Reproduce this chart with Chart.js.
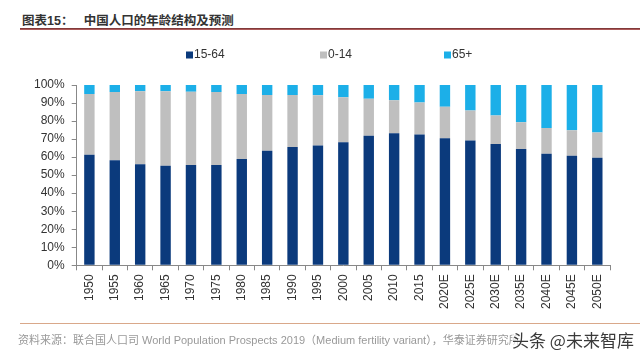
<!DOCTYPE html>
<html><head><meta charset="utf-8">
<script src="https://cdn.jsdelivr.net/npm/chart.js@4/dist/chart.umd.min.js"></script>
<style>
html,body{margin:0;padding:0;background:#fff;width:640px;height:355px;overflow:hidden;font-family:"Liberation Sans",Arial,"Noto Sans CJK SC",sans-serif;}
#title{position:absolute;left:22px;top:10px;font-size:12.5px;font-weight:bold;color:#333;font-family:"Liberation Sans","Noto Sans CJK SC",sans-serif;white-space:nowrap;}
#tline{position:absolute;left:20px;top:28px;width:620px;height:2px;background:linear-gradient(to bottom,#6a2a2a,#c46a6a);}
#fline{position:absolute;left:20px;top:323px;width:620px;height:1px;background:#d9a88a;}
#foot{position:absolute;left:18px;top:331px;font-size:11px;color:#999;white-space:nowrap;font-family:"Liberation Sans","Noto Sans CJK SC",sans-serif;}
#wm{position:absolute;left:512px;top:327px;font-size:17px;color:#3a3a3a;white-space:nowrap;font-family:"Noto Sans CJK SC",sans-serif;background:rgba(255,255,255,0.6);}
#box{position:absolute;left:0;top:38px;width:640px;height:288px;}
</style></head>
<body>
<div id="title">图表15：&nbsp;&nbsp;&nbsp;中国人口的年龄结构及预测</div>
<div id="tline"></div>
<div id="box"><canvas id="c"></canvas></div>
<div id="fline"></div>
<div id="foot">资料来源：联合国人口司 World Population Prospects 2019（Medium fertility variant），华泰证券研究所</div>
<div id="wm">头条 @未来智库</div>
<script>
const years = ['1950','1955','1960','1965','1970','1975','1980','1985','1990','1995','2000','2005','2010','2015','2020E','2025E','2030E','2035E','2040E','2045E','2050E'];
const age1564 = [61.3,58.2,56.1,55.2,55.6,55.6,58.9,63.6,65.6,66.5,68.2,71.9,73.2,72.5,70.4,69.2,67.3,64.5,61.9,60.8,59.7];
const age014 = [33.7,37.9,40.4,41.3,40.7,40.5,36.1,30.8,28.8,27.8,25.0,20.5,18.4,17.8,17.5,16.7,15.8,14.9,14.3,14.1,13.9];
const age65 = [5.0,3.9,3.5,3.5,3.7,3.9,5.0,5.6,5.6,5.7,6.8,7.6,8.4,9.7,12.1,14.1,16.9,20.6,23.8,25.1,26.4];
const seriesNames = ['15-64','0-14','65+'];
const yTicks = [0,10,20,30,40,50,60,70,80,90,100];

// legend drawn by a small plugin at spaced positions (x of each box, relative to canvas)
const legendBoxX = [186, 320, 444];
const wideLegend = {
  id: 'wideLegend',
  afterDraw(chart) {
    const ctx = chart.ctx;
    const y = 17;
    ctx.save();
    ctx.font = '12px "Liberation Sans", Arial';
    ctx.textBaseline = 'middle';
    chart.data.datasets.forEach((ds, i) => {
      const x = legendBoxX[i];
      ctx.fillStyle = ds.backgroundColor;
      ctx.fillRect(x, y - 3.5, 7, 7);
      ctx.fillStyle = '#333';
      ctx.fillText(ds.label, x + 8, y);
    });
    ctx.restore();
  }
};

new Chart(document.getElementById('c'), {
  type: 'bar',
  data: {
    labels: years,
    datasets: [
      {label: seriesNames[0], data: age1564, backgroundColor: '#0B3A7C'},
      {label: seriesNames[1], data: age014, backgroundColor: '#BFBFBF'},
      {label: seriesNames[2], data: age65, backgroundColor: '#1CAFE8'}
    ]
  },
  plugins: [wideLegend],
  options: {
    responsive: true,
    maintainAspectRatio: false,
    animation: false,
    datasets: {bar: {categoryPercentage: 1, barPercentage: 0.41}},
    layout: {padding: {left: 27, right: 30, top: 47, bottom: 13}},
    plugins: {
      tooltip: {enabled: false},
      legend: {display: false}
    },
    scales: {
      x: {
        stacked: true,
        grid: {display: true, drawOnChartArea: false, drawTicks: true, tickLength: 5, color: '#888', offset: true},
        border: {display: true, color: '#888'},
        ticks: {minRotation: 90, maxRotation: 90, padding: 4, color: '#333', font: {size: 12, family: '"Liberation Sans", Arial'}, autoSkip: false}
      },
      y: {
        stacked: true,
        min: 0, max: 100,
        afterBuildTicks: (s) => { s.ticks = yTicks.map(v => ({value: v})); },
        grid: {display: true, drawOnChartArea: false, drawTicks: true, tickLength: 5, color: '#888'},
        border: {display: true, color: '#888'},
        ticks: {padding: 7, autoSkip: false, color: '#333', font: {size: 12, family: '"Liberation Sans", Arial'}, callback: v => v + '%'}
      }
    }
  }
});
</script>
</body></html>
